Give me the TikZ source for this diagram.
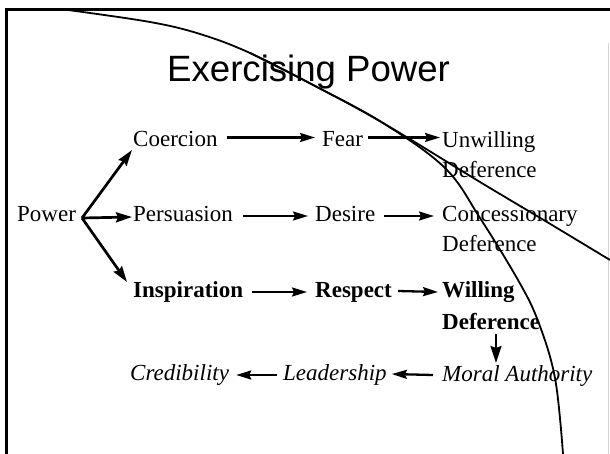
\documentclass[tikz,border=0pt]{standalone}
\usepackage{fontspec}
\setmainfont{Liberation Serif}
\newfontfamily\titlefont{Liberation Sans}
\usetikzlibrary{arrows.meta}
\begin{document}
\begin{tikzpicture}[x=1pt,y=-1pt,
  lbl/.style={anchor=base west,inner sep=0pt,font=\fontsize{23}{27}\selectfont},
  lblb/.style={lbl,font=\fontsize{23}{27}\selectfont\bfseries},
  lbli/.style={lbl,font=\fontsize{23}{27}\selectfont\itshape},
  arr/.style={line width=2.3pt,-{Stealth[length=15pt,width=9pt,inset=2pt]}},
  darr/.style={line width=2.3pt,-{Stealth[length=17pt,width=11pt,inset=2pt]}},
  parr/.style={line width=2.7pt,-{Stealth[length=16pt,width=10pt,inset=2pt]}},
  frame/.style={line width=3pt,black},
  arc/.style={line width=1.8pt,black}]
\useasboundingbox (0,0) rectangle (610,454);
\fill[white] (0,0) rectangle (610,454);
% frame
\draw[frame] (5,10) -- (610,10);
\draw[frame] (6.5,8.5) -- (6.5,454);
\draw[gray!35,line width=1pt] (608,43) -- (608,454);
% title
\node[anchor=base west,inner sep=0pt,font=\titlefont\fontsize{36.6}{40}\selectfont] (title) at (167,82) {Exercising Power};
% row 1
\node[lbl] (coer) at (133,146.5) {Coercion};
\node[lbl] (fear) at (322,146.5) {Fear};
\node[lbl] (unw) at (442,147.5) {Unwilling};
\node[lbl] (unwd) at (442,177.5) {Deference};
% row 2
\node[lbl] (power) at (17,222) {Power};
\coordinate (pw) at (82,218);
\node[lbl] (pers) at (133,222) {Persuasion};
\node[lbl] (des) at (315,222) {Desire};
\node[lbl] (conc) at (442,222) {Concessionary};
\node[lbl] (concd) at (442,252) {Deference};
% row 3
\node[lblb] (insp) at (133,297) {Inspiration};
\node[lblb] (resp) at (315,297) {Respect};
\node[lblb] (will) at (442,298) {Willing};
\node[lblb] (willd) at (442,329) {Deference};
% row 4
\node[lbli] (cred) at (130,380) {Credibility};
\node[lbli] (lead) at (283,380) {Leadership};
\node[lbli] (ma) at (442,381) {Moral Authority};
% arrows from power
\draw[parr] (pw) -- ([xshift=-1pt,yshift=-3.5pt]coer.base west);
\draw[parr] (pw) -- ([xshift=-1pt,yshift=5pt]pers.base west);
\draw[parr] (pw) -- ([xshift=-6pt,yshift=15pt]insp.base west);
% row arrows
\draw[arr] ([xshift=9pt,yshift=9pt]coer.base east) -- ([xshift=-7pt,yshift=9pt]fear.base west);
\draw[arr] ([xshift=5pt,yshift=9pt]fear.base east) -- ([xshift=-2pt,yshift=10pt]unw.base west);
\draw[arr] ([xshift=10pt,yshift=6pt]pers.base east) -- ([xshift=-7pt,yshift=6pt]des.base west);
\draw[arr] ([xshift=9pt,yshift=6pt]des.base east) -- ([xshift=-8pt,yshift=6pt]conc.base west);
\draw[arr] ([xshift=9pt,yshift=5pt]insp.base east) -- ([xshift=-8pt,yshift=5pt]resp.base west);
\draw[arr] ([xshift=6pt,yshift=6pt]resp.base east) -- ([xshift=-4pt,yshift=6pt]will.base west);
\draw[darr] ([xshift=54pt,yshift=-5pt]willd.base west) -- ([xshift=54pt,yshift=18pt]ma.base west);
\draw[arr] ([xshift=-9pt,yshift=6pt]ma.base west) -- ([xshift=5pt,yshift=6pt]lead.base east);
\draw[arr] ([xshift=-6pt,yshift=5pt]lead.base west) -- ([xshift=7pt,yshift=5pt]cred.base east);
% curves
\draw[arc] plot[smooth,tension=0.6] coordinates {(68,10) (150,22) (200,34) (250,53) (317,87) (383,123) (445,168) (480,218) (518,280) (538,321) (555,378) (563,454)};
\draw[arc] plot[smooth,tension=0.6] coordinates {(250,53) (317,87) (383,123) (480,182) (547,222) (610,260)};
\end{tikzpicture}
\end{document}
